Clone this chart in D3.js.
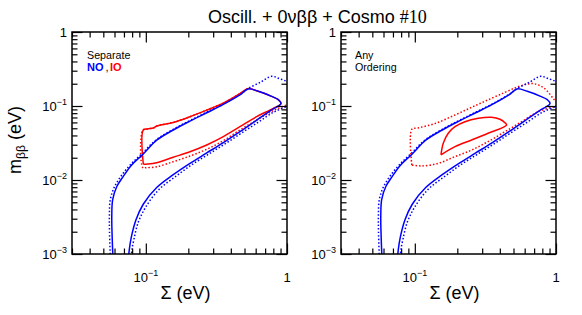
<!DOCTYPE html>
<html>
<head>
<meta charset="utf-8">
<script src="https://cdn.jsdelivr.net/npm/d3@7"></script>
<style>
body { margin: 0; background: #fff; }
text { font-family: "Liberation Sans", Arial, sans-serif; }
</style>
</head>
<body>
<div id="a"></div>
<script>
// tick labels
var sigmaLabels = [0.1, 1];
var mbbLabels = [1, 0.1, 0.01, 0.001];

// [Sigma (eV), m_bb (eV)]
var noSolid = [[0.0586,0.0008],[0.0576,0.002],[0.0574,0.0032],[0.0582,0.0054],[0.0622,0.0081],
  [0.0692,0.0112],[0.0794,0.016],[0.0959,0.0225],[0.1194,0.0345],[0.1564,0.0474],[0.2055,0.0625],
  [0.27,0.081],[0.354,0.105],[0.464,0.141],[0.53,0.170],[0.626,0.158],[0.778,0.135],[0.867,0.1217],
  [0.906,0.108],[0.76,0.086],[0.60,0.063],[0.464,0.045],[0.354,0.032],[0.27,0.0232],
  [0.2055,0.0168],[0.1564,0.0118],[0.1194,0.0079],[0.0959,0.0047],[0.0852,0.0029],[0.0790,0.0017],
  [0.0763,0.00113],[0.0752,0.0008]];
var noDotted = [[0.0562,0.0008],[0.0553,0.002],[0.0552,0.0032],[0.0560,0.0054],[0.0600,0.0081],
  [0.0670,0.0114],[0.0775,0.016],[0.094,0.0228],[0.118,0.0347],[0.155,0.048],[0.204,0.0632],
  [0.268,0.082],[0.352,0.106],[0.464,0.143],[0.53,0.172],[0.65,0.21],[0.778,0.252],[0.88,0.235],
  [0.994,0.216],[1.1,0.2],[1.2,0.15],[1.1,0.1],[1.0,0.098],[0.80,0.082],[0.63,0.061],[0.48,0.0435],
  [0.366,0.031],[0.28,0.0225],[0.213,0.0162],[0.163,0.0112],[0.1245,0.0075],[0.1005,0.0044],
  [0.0885,0.0027],[0.0825,0.0016],[0.0795,0.0011],[0.079,0.0008]];
var ioSolidSep = [[0.096,0.0163],[0.096,0.0474],[0.103,0.049],[0.113,0.0505],[0.1194,0.0537],
  [0.1564,0.060],[0.2055,0.0717],[0.27,0.088],[0.354,0.1095],[0.464,0.147],[0.53,0.172],
  [0.626,0.158],[0.778,0.135],[0.867,0.1217],[0.906,0.108],[0.799,0.093],[0.61,0.0717],
  [0.464,0.0525],[0.354,0.0385],[0.27,0.0297],[0.2055,0.0241],[0.1564,0.0203],[0.1194,0.0171],
  [0.103,0.0164],[0.096,0.0163]];
var ioDottedSep = [[1.1,0.105],[1.0,0.103],[0.799,0.0864],[0.61,0.0647],[0.464,0.0474],[0.354,0.034],
  [0.27,0.026],[0.2055,0.0211],[0.1564,0.01767],[0.1194,0.0151],[0.1,0.01466],[0.0952,0.0147],
  [0.0952,0.047],[0.103,0.049],[0.113,0.0505],[0.1194,0.0537],[0.1564,0.060],[0.2055,0.0717],
  [0.27,0.088],[0.354,0.1095],[0.464,0.147],[0.53,0.172]];
var ioSolidAny = [[0.1532,0.0218],[0.159,0.0313],[0.1725,0.0428],[0.1925,0.0525],[0.2265,0.0614],
  [0.2814,0.0682],[0.35,0.0704],[0.401,0.0661],[0.435,0.0595],[0.447,0.0554],[0.33,0.0428],
  [0.2527,0.0347],[0.1925,0.0282],[0.1532,0.0218]];
var ioDottedAny = [[0.0952,0.016],[0.0952,0.0484],[0.105,0.0505],[0.139,0.058],[0.1925,0.0756],
  [0.2527,0.096],[0.33,0.121],[0.435,0.153],[0.53,0.18],[0.626,0.198],[0.70,0.2],[0.822,0.175],
  [0.97,0.122],[1.05,0.103],[1.0,0.1],[0.749,0.0838],[0.571,0.0614],[0.435,0.045],[0.33,0.033],
  [0.2527,0.0254],[0.1925,0.0207],[0.1466,0.0168],[0.1118,0.0155],[0.0952,0.016]];

var W = 582, H = 315;
var svg = d3.select("#a").append("svg")
  .attr("width", W)
  .attr("height", H);

var panels = [
  {x0: 72, io: ioSolidSep, ioDot: ioDottedSep, legend: "sep"},
  {x0: 341, io: ioSolidAny, ioDot: ioDottedAny, legend: "any"}
];
var pw = 215, yTop = 32, yBot = 254;
var y = d3.scaleLog().domain([0.001, 1]).range([yBot, yTop]);
var BLUE = "#0000ff", RED = "#ff0000";

function isMajor(v) { return Math.abs(Math.log10(v) - Math.round(Math.log10(v))) < 1e-6; }
function expLabel(sel, v) {
  var e = Math.round(Math.log10(v));
  if (e === 0) { sel.text("1"); return; }
  sel.text("10");
  sel.append("tspan").attr("dy", -6).style("font-size", "9px").text("\u2212" + (-e));
}

panels.forEach(function(p, k) {
  var x = d3.scaleLog().domain([0.03, 1]).range([p.x0, p.x0 + pw]);
  var g = svg.append("g");

  g.append("clipPath").attr("id", "clip" + k)
    .append("rect").attr("x", p.x0).attr("y", yTop).attr("width", pw).attr("height", yBot - yTop);

  var line = d3.line()
    .x(function(d) { return x(d[0]); })
    .y(function(d) { return y(d[1]); })
    .curve(d3.curveCatmullRom.alpha(0.5));

  var c = g.append("g").attr("clip-path", "url(#clip" + k + ")");
  c.append("path").attr("d", line(p.ioDot)).attr("fill", "none").attr("stroke", RED)
    .attr("stroke-width", 1.5).attr("stroke-dasharray", "1.5,2");
  c.append("path").attr("d", line(noDotted)).attr("fill", "none").attr("stroke", BLUE)
    .attr("stroke-width", 1.5).attr("stroke-dasharray", "1.5,2");
  c.append("path").attr("d", line(p.io)).attr("fill", "none").attr("stroke", RED)
    .attr("stroke-width", 1.5);
  c.append("path").attr("d", line(noSolid)).attr("fill", "none").attr("stroke", BLUE)
    .attr("stroke-width", 1.5);

  // ticks on all four sides, pointing in
  var xt = x.ticks(), yt = y.ticks();
  var xMin = xt.filter(function(v) { return !isMajor(v); }), xMaj = xt.filter(isMajor);
  var yMin = yt.filter(function(v) { return !isMajor(v); }), yMaj = yt.filter(isMajor);
  [[xMin, 5.5], [xMaj, 10.5]].forEach(function(t) {
    g.append("g").attr("transform", "translate(0," + yBot + ")")
      .call(d3.axisBottom(x).tickValues(t[0]).tickSize(-t[1]).tickFormat(""));
    g.append("g").attr("transform", "translate(0," + yTop + ")")
      .call(d3.axisTop(x).tickValues(t[0]).tickSize(-t[1]).tickFormat(""));
  });
  [[yMin, 5.5], [yMaj, 10.5]].forEach(function(t) {
    g.append("g").attr("transform", "translate(" + p.x0 + ",0)")
      .call(d3.axisLeft(y).tickValues(t[0]).tickSize(-t[1]).tickFormat(""));
    g.append("g").attr("transform", "translate(" + (p.x0 + pw) + ",0)")
      .call(d3.axisRight(y).tickValues(t[0]).tickSize(-t[1]).tickFormat(""));
  });
  g.selectAll(".domain").remove();
  g.selectAll(".tick line").attr("stroke", "#000").attr("stroke-width", 1.2);

  g.append("rect").attr("x", p.x0).attr("y", yTop).attr("width", pw).attr("height", yBot - yTop)
    .attr("fill", "none").attr("stroke", "#000").attr("stroke-width", 1.5);

  // tick labels
  g.selectAll(".ylab").data(mbbLabels).enter().append("text")
    .attr("x", p.x0 - 5).attr("y", function(d) { return y(d) + 5; })
    .attr("text-anchor", "end").style("font-size", "13px")
    .each(function(d) { expLabel(d3.select(this), d); });
  g.selectAll(".xlab").data(sigmaLabels).enter().append("text")
    .attr("x", function(d) { return x(d); }).attr("y", 281.5)
    .attr("text-anchor", "middle").style("font-size", "13px")
    .each(function(d) { expLabel(d3.select(this), d); });

  g.append("text").attr("x", p.x0 + pw / 2 + 6).attr("y", 299)
    .attr("text-anchor", "middle").style("font-size", "18px").text("\u03a3 (eV)");

  if (p.legend === "sep") {
    g.append("text").attr("x", p.x0 + 15).attr("y", 59).style("font-size", "10.7px").text("Separate");
    var t = g.append("text").attr("y", 70.7).style("font-size", "11px");
    t.append("tspan").attr("x", p.x0 + 15).style("font-weight", "bold").attr("fill", BLUE).text("NO");
    t.append("tspan").attr("x", p.x0 + 33.5).text(",");
    t.append("tspan").attr("x", p.x0 + 38).style("font-weight", "bold").attr("fill", RED).text("IO");
  } else {
    g.append("text").attr("x", p.x0 + 14).attr("y", 59).style("font-size", "10.7px").text("Any");
    g.append("text").attr("x", p.x0 + 14).attr("y", 70.5).style("font-size", "10.7px").text("Ordering");
  }
});

// y axis title
var ytl = svg.append("text").attr("transform", "translate(21,140) rotate(-90)")
  .attr("text-anchor", "middle").style("font-size", "18px");
ytl.append("tspan").text("m");
ytl.append("tspan").attr("dy", 4).style("font-size", "12px").text("\u03b2\u03b2");
ytl.append("tspan").attr("dy", -4).text(" (eV)");

// title
var tt = svg.append("text").attr("x", 208).attr("y", 23).style("font-size", "18px");
tt.append("tspan").text("Oscill. + 0\u03bd\u03b2\u03b2 + Cosmo ");
tt.append("tspan").style("font-family", "'Liberation Serif', 'Times New Roman', serif").text("#10");
</script>
</body>
</html>
